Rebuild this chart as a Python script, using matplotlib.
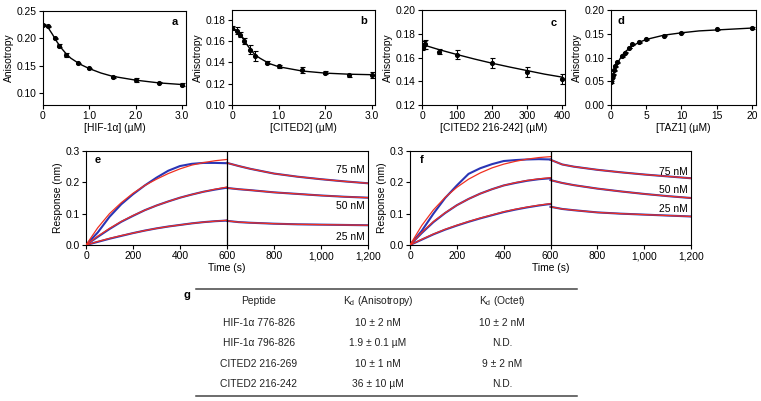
import matplotlib
matplotlib.use('Agg')
import matplotlib.pyplot as plt
from matplotlib.lines import Line2D
from matplotlib.ticker import FuncFormatter

FS = 7.4
plt.rcParams['font.family'] = ['Liberation Sans', 'DejaVu Sans']
plt.rcParams['mathtext.fontset'] = 'custom'
plt.rcParams['mathtext.rm'] = 'Liberation Sans'
plt.rcParams['font.size'] = FS
plt.rcParams['axes.linewidth'] = 0.8

#
# anisotropy titrations (a-d)
#
a_x = [0, 0.1, 0.25, 0.35, 0.5, 0.75, 1.0, 1.5, 2.0, 2.5, 3.0]
a_y = [0.225, 0.222, 0.200, 0.187, 0.170, 0.155, 0.146, 0.129, 0.124, 0.119, 0.116]
a_err = [0.002, 0.001, 0.001, 0.002, 0.004, 0.001, 0.001, 0.002, 0.003, 0.001, 0.003]
a_fit_x = [0, 0.1, 0.2, 0.3, 0.4, 0.5, 0.6, 0.8, 1.0, 1.25, 1.5, 2.0, 2.5, 3.0]
a_fit_y = [0.225, 0.221, 0.208, 0.194, 0.182, 0.172, 0.164, 0.153, 0.145, 0.137, 0.131,
           0.124, 0.119, 0.116]

b_x = [0, 0.1, 0.175, 0.25, 0.375, 0.5, 0.75, 1.0, 1.5, 2.0, 2.5, 3.0]
b_y = [0.1725, 0.170, 0.1663, 0.160, 0.152, 0.146, 0.1397, 0.1366, 0.1328, 0.1303,
       0.128, 0.128]
b_err = [0.002, 0.003, 0.002, 0.003, 0.004, 0.005, 0.0015, 0.0015, 0.003, 0.0015,
         0.0015, 0.003]
b_fit_x = [0, 0.1, 0.2, 0.3, 0.4, 0.5, 0.6, 0.8, 1.0, 1.5, 2.0, 2.5, 3.0]
b_fit_y = [0.173, 0.170, 0.165, 0.158, 0.152, 0.147, 0.144, 0.139, 0.136, 0.132, 0.130,
           0.129, 0.1285]

c_x = [1, 5, 10, 50, 100, 200, 300, 400]
c_y = [0.169, 0.1705, 0.171, 0.165, 0.1625, 0.1555, 0.148, 0.142]
c_err = [0.003, 0.003, 0.004, 0.002, 0.004, 0.004, 0.004, 0.004]
c_fit_x = [0, 50, 100, 150, 200, 250, 300, 350, 400]
c_fit_y = [0.171, 0.1665, 0.1625, 0.1587, 0.1552, 0.152, 0.149, 0.146, 0.1435]

d_x = [0.05, 0.1, 0.25, 0.4, 0.6, 0.9, 1.5, 2.0, 2.5, 3.0, 4.0, 5.0, 7.5, 10, 15, 20]
d_y = [0.048, 0.057, 0.064, 0.073, 0.082, 0.090, 0.103, 0.110, 0.120, 0.128, 0.132,
       0.138, 0.146, 0.152, 0.159, 0.162]
d_err = [0.002, 0.001, 0.001, 0.001, 0.001, 0.001, 0.001, 0.001, 0.001, 0.001, 0.001,
         0.001, 0.001, 0.001, 0.001, 0.003]
d_fit_x = [0, 0.25, 0.5, 1, 1.5, 2, 3, 4, 5, 7.5, 10, 12.5, 15, 17.5, 20]
d_fit_y = [0.047, 0.062, 0.073, 0.090, 0.103, 0.112, 0.124, 0.132, 0.138, 0.147, 0.152,
           0.156, 0.158, 0.160, 0.162]

#
# octet traces (e, f)
#
assoc_t = [0, 50, 100, 150, 200, 250, 300, 350, 400, 450, 500, 550, 600]
dissoc_t = [600, 650, 700, 800, 900, 1000, 1100, 1200]
conc_labels = ['75 nM', '50 nM', '25 nM']

e_blue = [[0, 0.040, 0.090, 0.130, 0.162, 0.190, 0.215, 0.237, 0.252, 0.259, 0.262, 0.262, 0.261],
          [0, 0.026, 0.051, 0.074, 0.093, 0.111, 0.126, 0.139, 0.151, 0.161, 0.170, 0.177, 0.183],
          [0, 0.010, 0.020, 0.029, 0.038, 0.046, 0.053, 0.059, 0.064, 0.069, 0.073, 0.076, 0.078]]
e_red = [[0, 0.055, 0.100, 0.135, 0.165, 0.190, 0.210, 0.228, 0.243, 0.255, 0.263, 0.269, 0.273],
         [0, 0.028, 0.053, 0.075, 0.094, 0.111, 0.126, 0.139, 0.151, 0.161, 0.170, 0.178, 0.185],
         [0, 0.011, 0.021, 0.030, 0.038, 0.046, 0.053, 0.059, 0.064, 0.069, 0.073, 0.076, 0.079]]
e_dissoc = [[0.262, 0.252, 0.243, 0.228, 0.218, 0.210, 0.203, 0.197],
            [0.182, 0.178, 0.175, 0.168, 0.163, 0.158, 0.154, 0.151],
            [0.077, 0.073, 0.071, 0.068, 0.066, 0.065, 0.064, 0.063]]
e_label_y = [0.239, 0.125, 0.026]

f_blue = [[0, 0.045, 0.100, 0.150, 0.190, 0.227, 0.245, 0.258, 0.268, 0.271, 0.273, 0.274, 0.273],
          [0, 0.038, 0.073, 0.102, 0.127, 0.147, 0.164, 0.178, 0.190, 0.198, 0.205, 0.210, 0.213],
          [0, 0.017, 0.034, 0.049, 0.062, 0.074, 0.085, 0.095, 0.105, 0.113, 0.120, 0.126, 0.131]]
f_red = [[0, 0.062, 0.112, 0.152, 0.184, 0.210, 0.230, 0.246, 0.258, 0.267, 0.274, 0.279, 0.282],
         [0, 0.040, 0.075, 0.103, 0.127, 0.147, 0.164, 0.178, 0.190, 0.199, 0.206, 0.211, 0.215],
         [0, 0.018, 0.035, 0.050, 0.063, 0.075, 0.086, 0.096, 0.106, 0.114, 0.121, 0.127, 0.132]]
f_dissoc = [[0.272, 0.257, 0.250, 0.240, 0.232, 0.225, 0.219, 0.213],
            [0.207, 0.198, 0.191, 0.180, 0.171, 0.163, 0.156, 0.150],
            [0.122, 0.115, 0.111, 0.104, 0.100, 0.097, 0.094, 0.091]]
f_label_y = [0.233, 0.177, 0.115]

#
# table (g)
#
table_header = ['Peptide', r'K$_{\mathrm{d}}$ (Anisotropy)', r'K$_{\mathrm{d}}$ (Octet)']
table_peptide = ['HIF-1\u03b1 776-826', 'HIF-1\u03b1 796-826', 'CITED2 216-269', 'CITED2 216-242']
table_aniso = ['10 \u00b1 2 nM', '1.9 \u00b1 0.1 \u00b5M', '10 \u00b1 1 nM', '36 \u00b1 10 \u00b5M']
table_octet = ['10 \u00b1 2 nM', 'N.D.', '9 \u00b1 2 nM', 'N.D.']

W, H = 761, 401
fig = plt.figure(figsize=(W / 100, H / 100), dpi=100)


def px_axes(left, top, right, bottom):
    return fig.add_axes([left / W, 1 - bottom / H, (right - left) / W, (bottom - top) / H])


def style(ax):
    ax.tick_params(direction='out', length=3, width=0.8, pad=1.5, labelsize=FS,
                   top=False, right=False)


def titration(ax, x, y, err, fx, fy):
    ax.plot(fx, fy, color='black', lw=1.0, zorder=2)
    ax.errorbar(x, y, yerr=err, fmt='o', ms=2.7, color='black', ecolor='black',
                elinewidth=0.8, capsize=1.8, capthick=0.8, zorder=3)


ax_a = px_axes(43, 11, 186, 105)
titration(ax_a, a_x, a_y, a_err, a_fit_x, a_fit_y)
ax_a.set_xlim(0, 3.086)
ax_a.set_ylim(0.0787, 0.25)
ax_a.set_xticks([0, 1, 2, 3], ['0', '1.0', '2.0', '3.0'])
ax_a.set_yticks([0.10, 0.15, 0.20, 0.25], ['0.10', '0.15', '0.20', '0.25'])
ax_a.set_xlabel('[HIF-1\u03b1] (\u00b5M)', labelpad=1)
ax_a.set_ylabel('Anisotropy', labelpad=2)
ax_a.text(0.92, 0.88, 'a', transform=ax_a.transAxes, fontweight='bold', fontsize=8,
          ha='center', va='center')

ax_b = px_axes(232, 10, 375, 105)
titration(ax_b, b_x, b_y, b_err, b_fit_x, b_fit_y)
ax_b.set_xlim(0, 3.064)
ax_b.set_ylim(0.10, 0.1894)
ax_b.set_xticks([0, 1, 2, 3], ['0', '1.0', '2.0', '3.0'])
ax_b.set_yticks([0.10, 0.12, 0.14, 0.16, 0.18], ['0.10', '0.12', '0.14', '0.16', '0.18'])
ax_b.set_xlabel('[CITED2] (\u00b5M)', labelpad=1)
ax_b.set_ylabel('Anisotropy', labelpad=2)
ax_b.text(0.92, 0.88, 'b', transform=ax_b.transAxes, fontweight='bold', fontsize=8,
          ha='center', va='center')

ax_c = px_axes(422, 10, 565, 105)
titration(ax_c, c_x, c_y, c_err, c_fit_x, c_fit_y)
ax_c.set_xlim(0, 408.6)
ax_c.set_ylim(0.12, 0.20)
ax_c.set_xticks([0, 100, 200, 300, 400])
ax_c.set_yticks([0.12, 0.14, 0.16, 0.18, 0.20], ['0.12', '0.14', '0.16', '0.18', '0.20'])
ax_c.set_xlabel('[CITED2 216-242] (\u00b5M)', labelpad=1)
ax_c.set_ylabel('Anisotropy', labelpad=2)
ax_c.text(0.92, 0.86, 'c', transform=ax_c.transAxes, fontweight='bold', fontsize=8,
          ha='center', va='center')

ax_d = px_axes(611, 10, 756, 105)
titration(ax_d, d_x, d_y, d_err, d_fit_x, d_fit_y)
ax_d.set_xlim(0, 20.57)
ax_d.set_ylim(0, 0.20)
ax_d.set_xticks([0, 5, 10, 15, 20])
ax_d.set_yticks([0, 0.05, 0.10, 0.15, 0.20], ['0.00', '0.05', '0.10', '0.15', '0.20'])
ax_d.set_xlabel('[TAZ1] (\u00b5M)', labelpad=1)
ax_d.set_ylabel('Anisotropy', labelpad=2)
ax_d.text(0.07, 0.88, 'd', transform=ax_d.transAxes, fontweight='bold', fontsize=8,
          ha='center', va='center')

for ax in (ax_a, ax_b, ax_c, ax_d):
    style(ax)


def octet(ax, blue, red, dissoc, label_y, letter):
    for i in range(len(blue)):
        ax.plot(assoc_t, blue[i], color='#2a35b5', lw=1.5, zorder=2)
        ax.plot(dissoc_t, dissoc[i], color='#2a35b5', lw=1.5, zorder=2)
        ax.plot(assoc_t, red[i], color='#f03020', lw=0.9, zorder=3)
        ax.plot(dissoc_t, dissoc[i], color='#f03020', lw=0.9, zorder=3)
        ax.text(1185, label_y[i], conc_labels[i], ha='right', va='center', fontsize=FS)
    ax.axvline(600, color='black', lw=0.9, zorder=4)
    ax.set_xlim(0, 1200)
    ax.set_ylim(0, 0.3)
    ax.set_xticks([0, 200, 400, 600, 800, 1000, 1200])
    ax.xaxis.set_major_formatter(FuncFormatter(lambda v, p: '{:,.0f}'.format(v)))
    ax.set_yticks([0, 0.1, 0.2, 0.3], ['0.0', '0.1', '0.2', '0.3'])
    ax.set_xlabel('Time (s)', labelpad=1)
    ax.set_ylabel('Response (nm)', labelpad=2)
    ax.text(0.04, 0.9, letter, transform=ax.transAxes, fontweight='bold', fontsize=8,
            ha='center', va='center')
    style(ax)


ax_e = px_axes(86, 151, 368, 245)
octet(ax_e, e_blue, e_red, e_dissoc, e_label_y, 'e')
ax_f = px_axes(410, 151, 691, 245)
octet(ax_f, f_blue, f_red, f_dissoc, f_label_y, 'f')

#
# table g
#
for yy in (289, 396):
    fig.add_artist(Line2D([196 / W, 577 / W], [1 - yy / H, 1 - yy / H],
                          color='#444444', lw=1.1))
fig.text(187 / W, 1 - 295 / H, 'g', fontweight='bold', fontsize=8, ha='center',
         va='center')
col_x = [259, 378, 502]
for j, head in enumerate(table_header):
    fig.text(col_x[j] / W, 1 - 301 / H, head, ha='center', va='center', fontsize=FS,
             color='#222222')
row_y = [323, 343, 364, 384]
for i in range(len(table_peptide)):
    for j, col in enumerate((table_peptide, table_aniso, table_octet)):
        fig.text(col_x[j] / W, 1 - row_y[i] / H, col[i], ha='center', va='center',
                 fontsize=FS, color='#222222')

fig.savefig('out.png', dpi=100)
